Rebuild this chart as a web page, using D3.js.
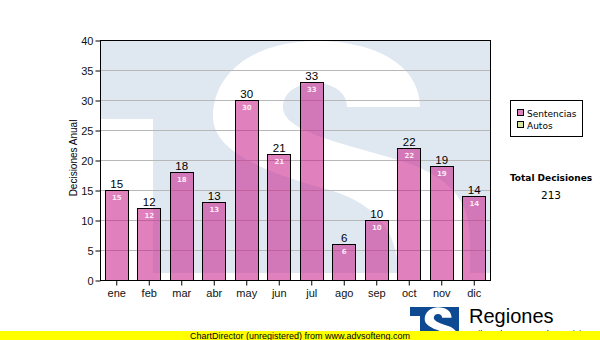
<!DOCTYPE html>
<html>
<head>
<meta charset="utf-8">
<script src="https://cdn.jsdelivr.net/npm/d3@7"></script>
<style>
  html, body { margin: 0; padding: 0; background: #fff; }
  svg { display: block; }
</style>
</head>
<body>
<svg id="chart" width="600" height="340"></svg>
<script>
// Monthly decisions
const months = ["ene", "feb", "mar", "abr", "may", "jun", "jul", "ago", "sep", "oct", "nov", "dic"];
const sentencias = [15, 12, 18, 13, 30, 21, 33, 6, 10, 22, 19, 14];
const autos = [0, 0, 0, 0, 0, 0, 0, 0, 0, 0, 0, 0];
const yTicks = [0, 5, 10, 15, 20, 25, 30, 35, 40];
const seriesNames = ["Sentencias", "Autos"];

const svg = d3.select("#chart");
const plot = { left: 100, right: 490, top: 40, bottom: 280 };

const x = d3.scaleBand().domain(months).range([plot.left, plot.right])
  .paddingInner(0.28).paddingOuter(0.14);
const y = d3.scaleLinear().domain([0, 40]).range([plot.bottom, plot.top]);

// Outline of the "S" in the TS emblem (emblem space: 100..490 x 40..280)
const emblemS = [
  "M420,107",
  "C420,65 375,41 317,41",
  "C255,41 213,72 213,117",
  "C213,150 262,172 330,190",
  "C372,203 398,228 398,273",
  "L398,300 L470,300 L470,240",
  "C470,200 450,178 405,162",
  "C340,142 283,132 283,107",
  "C283,92 298,83 315,83",
  "C334,83 347,93 347,107",
  "Z"
].join(" ");

// ---- plot background with the faded emblem ----
svg.append("clipPath").attr("id", "plotClip")
  .append("rect").attr("x", plot.left).attr("y", plot.top)
  .attr("width", plot.right - plot.left).attr("height", plot.bottom - plot.top);

const wm = svg.append("g").attr("clip-path", "url(#plotClip)");
wm.append("rect").attr("x", plot.left).attr("y", plot.top)
  .attr("width", plot.right - plot.left).attr("height", plot.bottom - plot.top)
  .attr("fill", "#dfe8f1");
wm.append("rect").attr("x", plot.left).attr("y", 119)
  .attr("width", 53).attr("height", plot.bottom - 119).attr("fill", "#fff");
wm.append("path").attr("d", emblemS).attr("fill", "#fff");
wm.append("rect").attr("x", plot.left).attr("y", 273)
  .attr("width", plot.right - plot.left).attr("height", 8).attr("fill", "#fff");

// ---- grid ----
svg.append("g").selectAll("line").data(yTicks.filter(d => d > 0 && d < 40)).join("line")
  .attr("x1", plot.left).attr("x2", plot.right)
  .attr("y1", d => Math.round(y(d)) + 0.5).attr("y2", d => Math.round(y(d)) + 0.5)
  .attr("stroke", "#b8b8b8").attr("stroke-width", 1);

// ---- bars (stacked: Sentencias + Autos) ----
const barFill = "rgba(200, 30, 138, 0.56)";
const autoFill = "#d5e8a0";
const bars = svg.append("g");
months.forEach((m, i) => {
  const s = sentencias[i], a = autos[i];
  const x0 = Math.round(x(m)) + 0.5, w = Math.round(x.bandwidth());
  bars.append("rect")
    .attr("x", x0).attr("y", Math.round(y(s)) + 0.5)
    .attr("width", w).attr("height", Math.round(y(0)) - Math.round(y(s)))
    .attr("fill", barFill).attr("stroke", "#000").attr("stroke-width", 1);
  if (a > 0) {
    bars.append("rect")
      .attr("x", x0).attr("y", Math.round(y(s + a)) + 0.5)
      .attr("width", w).attr("height", Math.round(y(s)) - Math.round(y(s + a)))
      .attr("fill", autoFill).attr("stroke", "#000").attr("stroke-width", 1);
  }
});

// ---- frame ----
svg.append("rect").attr("x", plot.left + 0.5).attr("y", plot.top + 0.5)
  .attr("width", plot.right - plot.left).attr("height", plot.bottom - plot.top)
  .attr("fill", "none").attr("stroke", "#000").attr("stroke-width", 1);

// ---- axes ----
const yAxis = d3.axisLeft(y).tickValues(yTicks).tickSize(5).tickPadding(2);
const gy = svg.append("g").attr("transform", `translate(${plot.left + 0.5},0.5)`).call(yAxis);
gy.select(".domain").remove();
gy.selectAll("text").attr("font-family", "Liberation Sans").attr("font-size", 11).attr("fill", "#111");
gy.selectAll("line").attr("stroke", "#000");

const xAxis = d3.axisBottom(x).tickSize(5).tickPadding(4);
const gx = svg.append("g").attr("transform", `translate(0.5,${plot.bottom + 0.5})`).call(xAxis);
gx.select(".domain").remove();
gx.selectAll("text").attr("font-family", "Liberation Sans").attr("font-size", 11).attr("fill", "#111");
gx.selectAll("line").attr("stroke", "#000");

svg.append("text")
  .attr("transform", "translate(77,158) rotate(-90)")
  .attr("text-anchor", "middle")
  .attr("font-family", "Liberation Sans").attr("font-size", 10).attr("fill", "#000")
  .text("Decisiones Anual");

// ---- value labels ----
const labels = svg.append("g");
months.forEach((m, i) => {
  const cx = x(m) + x.bandwidth() / 2 + 0.5;
  const total = sentencias[i] + autos[i];
  labels.append("text").attr("x", cx).attr("y", y(total) - 2)
    .attr("text-anchor", "middle")
    .attr("font-family", "Liberation Sans").attr("font-size", 11.5).attr("fill", "#000")
    .text(total);
  labels.append("text").attr("x", cx).attr("y", y(sentencias[i]) + 9.5)
    .attr("text-anchor", "middle")
    .attr("font-family", "DejaVu Sans").attr("font-size", 7).attr("font-weight", "bold")
    .attr("fill", "#fce8f5")
    .text(sentencias[i]);
});

// ---- legend ----
const legend = svg.append("g");
legend.append("rect").attr("x", 510.5).attr("y", 100.5).attr("width", 72).attr("height", 36)
  .attr("fill", "#fff").attr("stroke", "#000");
const legendColors = ["#e080c0", autoFill];
seriesNames.forEach((n, i) => {
  legend.append("rect").attr("x", 517.5).attr("y", 109.5 + i * 12).attr("width", 6).attr("height", 6)
    .attr("fill", legendColors[i]).attr("stroke", "#000");
  legend.append("text").attr("x", 527).attr("y", 117 + i * 12)
    .attr("font-family", "DejaVu Sans").attr("font-size", 9).attr("fill", "#000")
    .text(n);
});

// ---- total ----
const totalDecisiones = d3.sum(sentencias) + d3.sum(autos);
svg.append("text").attr("x", 551).attr("y", 180.5).attr("text-anchor", "middle")
  .attr("font-family", "DejaVu Sans").attr("font-weight", "bold").attr("font-size", 9)
  .attr("fill", "#000").text("Total Decisiones");
svg.append("text").attr("x", 551).attr("y", 199).attr("text-anchor", "middle")
  .attr("font-family", "DejaVu Sans").attr("font-size", 10.5)
  .attr("fill", "#000").text(totalDecisiones);

// ---- emblem at the foot ----
const logo = svg.append("g");
logo.append("rect").attr("x", 410).attr("y", 307).attr("width", 49).attr("height", 24).attr("fill", "#0d4a92");
logo.append("rect").attr("x", 410).attr("y", 316).attr("width", 10).attr("height", 15).attr("fill", "#fff");
logo.append("path").attr("d", emblemS).attr("fill", "#fff")
  .attr("transform", "translate(410,307) scale(0.13,0.16) translate(-100,-40)");
logo.append("text").attr("x", 469).attr("y", 323)
  .attr("font-family", "Liberation Sans").attr("font-size", 20).attr("fill", "#000")
  .text("Regiones");
logo.append("text").attr("x", 470).attr("y", 337)
  .attr("font-family", "Liberation Sans").attr("font-size", 9).attr("fill", "#000")
  .text("Tribunal Supremo de Justicia");

// ---- footer banner ----
svg.append("rect").attr("x", 0).attr("y", 331).attr("width", 600).attr("height", 9).attr("fill", "#ffff00");
svg.append("text").attr("x", 300).attr("y", 338.5).attr("text-anchor", "middle")
  .attr("font-family", "Liberation Sans").attr("font-size", 9).attr("fill", "#000")
  .text("ChartDirector (unregistered) from www.advsofteng.com");
</script>
</body>
</html>
